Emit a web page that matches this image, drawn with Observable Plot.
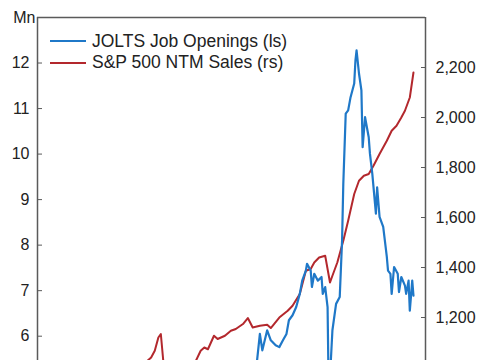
<!DOCTYPE html>
<html><head><meta charset="utf-8">
<script src="https://cdn.jsdelivr.net/npm/d3@7"></script>
<script src="https://cdn.jsdelivr.net/npm/@observablehq/plot@0.6"></script>
<style>
html,body{margin:0;padding:0;background:#fff;overflow:hidden}
#wrap{position:relative;width:485px;height:360px;font-family:"Liberation Sans",Arial,sans-serif}
.leg{position:absolute;left:50px;height:20px;display:flex;align-items:center;font-size:17.5px;color:#222;white-space:nowrap}
.leg .sw{display:inline-block;width:36px;height:2px;margin-right:6px}
</style></head><body><div id="wrap"></div>
<script>
// JOLTS Job Openings (millions, left scale)
const joltsDates = ["2000-12","2001-06","2001-12","2002-06","2003-06","2004-06","2005-06","2006-06","2007-06","2008-06","2009-06","2010-06","2011-06","2012-06","2013-06","2014-06","2015-01","2015-04","2015-07","2015-09","2016-01","2016-04","2016-08","2016-11","2017-02","2017-05","2017-07","2017-10","2018-01","2018-04","2018-06","2018-09","2018-10","2019-01","2019-02","2019-04","2019-07","2019-10","2019-11","2020-01","2020-03","2020-04","2020-07","2020-10","2021-01","2021-03","2021-04","2021-06","2021-08","2021-10","2022-01","2022-02","2022-03","2022-05","2022-07","2022-08","2022-10","2023-01","2023-02","2023-04","2023-07","2023-08","2023-10","2024-01","2024-04","2024-05","2024-07","2024-08","2024-10","2025-01","2025-02","2025-04","2025-07","2025-08","2025-10","2025-11","2026-01","2026-02"];
const joltsValues = [5.1,4.5,3.6,3.5,3.2,3.6,4.0,4.5,4.5,3.8,2.3,2.9,3.2,3.6,3.9,4.6,5.0,5.3,6.05,5.69,6.13,5.91,5.80,5.76,5.91,6.05,6.35,6.46,6.64,6.93,7.22,7.44,7.59,7.44,7.08,7.37,7.22,7.30,6.93,7.08,6.64,4.6,6.13,6.71,6.86,8.10,9.35,10.89,10.96,11.25,11.55,12.06,12.28,11.77,11.40,10.15,10.81,10.37,10.01,9.57,8.69,9.27,8.62,8.40,7.74,7.44,7.37,6.93,7.52,7.37,6.97,7.30,7.11,6.93,7.22,6.56,7.22,6.89];

// S&P 500 NTM Sales (right scale)
const salesDates = ["2000-03","2002-01","2004-01","2006-01","2007-06","2007-10","2008-01","2008-04","2008-07","2008-09","2008-11","2009-03","2009-09","2010-03","2010-09","2011-02","2011-06","2011-09","2011-12","2012-05","2012-08","2013-02","2013-07","2013-11","2014-05","2014-09","2015-01","2015-07","2016-01","2016-04","2016-11","2017-06","2017-10","2018-04","2018-09","2019-01","2019-04","2019-08","2020-01","2020-05","2020-07","2020-11","2021-04","2021-08","2022-01","2022-05","2022-09","2023-01","2023-05","2023-10","2024-04","2024-08","2024-12","2025-04","2025-07","2025-11","2026-02"];
const salesValues = [600,580,650,800,950,1027,1040,1067,1120,1134,1027,940,930,960,1000,1027,1067,1080,1073,1127,1114,1127,1147,1154,1174,1198,1160,1167,1171,1158,1200,1227,1247,1294,1387,1394,1420,1440,1447,1340,1367,1420,1507,1587,1694,1747,1767,1774,1807,1854,1907,1947,1967,2000,2027,2080,2180];

const leftTicks = [6,7,8,9,10,11,12];
const rightTicks = [1200,1400,1600,1800,2000,2200];
const seriesNames = ["JOLTS Job Openings (ls)","S&P 500 NTM Sales (rs)"];
const seriesColors = ["#1f78c8","#b3282d"];

// right-scale -> left-scale mapping
const leftTop = 13, leftBottom = 5.466, rightTop = 2400, unitsPerLeft = 182.1;
const toLeft = v => leftTop - (rightTop - v) / unitsPerLeft;
const fromLeft = l => rightTop - (leftTop - l) * unitsPerLeft;

const parse = d3.utcParse("%Y-%m");
const jolts = joltsDates.map((d,i)=>({date:parse(d), value:joltsValues[i]}));
const sales = salesDates.map((d,i)=>({date:parse(d), value:toLeft(salesValues[i])}));

const xDomain = [parse("2000-03"), parse("2026-12")];
const axisColor = "#5a5a5a";

const chart = Plot.plot({
  width:485, height:360,
  marginLeft:37, marginRight:60, marginTop:17, marginBottom:0,
  style:{fontFamily:"'Liberation Sans', Arial, sans-serif", fontSize:"16px", color:"#222", background:"#fff", overflow:"hidden"},
  x:{type:"utc", domain:xDomain, axis:null},
  y:{domain:[leftBottom, leftTop], axis:null},
  marks:[
    Plot.line(sales, {x:"date", y:"value", stroke:seriesColors[1], strokeWidth:2, clip:true}),
    Plot.line(jolts, {x:"date", y:"value", stroke:seriesColors[0], strokeWidth:2.2, clip:true}),
    Plot.ruleX(xDomain, {stroke:axisColor, strokeWidth:1.5}),
    Plot.ruleY([leftTop], {stroke:axisColor, strokeWidth:1.5}),
    Plot.axisY({anchor:"left", ticks:leftTicks, tickSize:-5, tickPadding:13, tickFormat:d=>String(d), stroke:axisColor, fill:"#222", label:null}),
    Plot.axisY({anchor:"right", ticks:rightTicks.map(toLeft), tickSize:-5, tickPadding:15, tickFormat:d=>d3.format(",")(Math.round(fromLeft(d)/100)*100), stroke:axisColor, fill:"#222", label:null}),
    Plot.text(["Mn"], {frameAnchor:"top-left", dx:-2, textAnchor:"end", lineAnchor:"middle", fill:"#222", fontSize:16})
  ]
});
const wrap = document.getElementById("wrap");
wrap.appendChild(chart);
const tops = [31, 52.7];
seriesNames.forEach((n,i)=>{
  const el = document.createElement("div");
  el.className="leg"; el.style.top = tops[i]+"px";
  el.innerHTML = `<span class="sw" style="background:${seriesColors[i]}"></span><span>${n}</span>`;
  wrap.appendChild(el);
});
</script></body></html>
